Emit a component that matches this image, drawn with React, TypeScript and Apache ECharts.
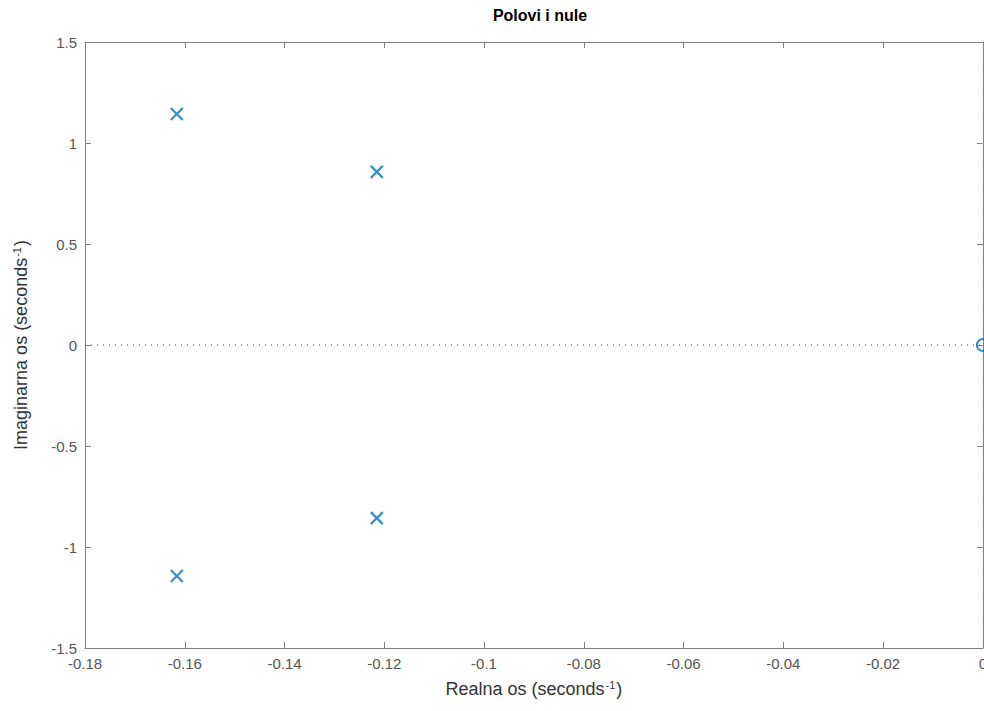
import React, { useEffect, useRef } from "react";
import * as echarts from "echarts";

const xTicksMin = -0.18;
const xTicksMax = 0;
const xInterval = 0.02;
const yTicksMin = -1.5;
const yTicksMax = 1.5;
const yInterval = 0.5;

const poleRe = [-0.1616, -0.1215, -0.1215, -0.1616];
const poleIm = [1.144, 0.857, -0.857, -1.144];
const zeroRe = [0];
const zeroIm = [0];

const BLUE = "#0072BD";
const FONT = "Liberation Sans, Arial, Helvetica, sans-serif";

export default function App() {
  const ref = useRef<HTMLDivElement>(null);
  useEffect(() => {
    if (!ref.current) return;
    const chart = echarts.init(ref.current, undefined, { renderer: "svg" });
    const poles = poleRe.map((r, i) => [r, poleIm[i]]);
    const zeros = zeroRe.map((r, i) => [r, zeroIm[i]]);
    const axisLine = { show: true, onZero: false, lineStyle: { color: "#7f7f7f", width: 1 } };
    const tick = { show: true, inside: true, length: 6, lineStyle: { color: "#7f7f7f" } };
    const label = { color: "#555", fontSize: 15, fontFamily: FONT, margin: 8 };
    const nameRich = {
      sup: { fontSize: 11, verticalAlign: "top", color: "#333", fontFamily: FONT, padding: [0, 1, 9, 1] },
    };
    chart.setOption({
      animation: false,
      backgroundColor: "#fff",
      title: {
        text: "Polovi i nule",
        left: 535,
        textAlign: "center",
        top: 2,
        textStyle: { fontSize: 16, fontWeight: "bold", color: "#000", fontFamily: FONT },
      },
      grid: { left: 85, right: 5, top: 42, bottom: 63 },
      xAxis: [
        {
          type: "value",
          min: xTicksMin,
          max: xTicksMax,
          interval: xInterval,
          position: "bottom",
          axisLine,
          axisTick: tick,
          axisLabel: label,
          splitLine: { show: false },
          name: "Realna os (seconds{sup|-1})",
          nameLocation: "middle",
          nameGap: 31,
          nameTextStyle: { fontSize: 18, color: "#333", fontFamily: FONT, rich: nameRich },
        },
        {
          type: "value",
          min: xTicksMin,
          max: xTicksMax,
          interval: xInterval,
          position: "top",
          axisLine,
          axisTick: tick,
          axisLabel: { show: false },
          splitLine: { show: false },
        },
      ],
      yAxis: [
        {
          type: "value",
          min: yTicksMin,
          max: yTicksMax,
          interval: yInterval,
          position: "left",
          axisLine,
          axisTick: tick,
          axisLabel: label,
          splitLine: { show: false },
          name: "Imaginarna os (seconds{sup|-1})",
          nameLocation: "middle",
          nameGap: 54,
          nameTextStyle: { fontSize: 18, color: "#333", fontFamily: FONT, rich: nameRich },
        },
        {
          type: "value",
          min: yTicksMin,
          max: yTicksMax,
          interval: yInterval,
          position: "right",
          axisLine,
          axisTick: tick,
          axisLabel: { show: false },
          splitLine: { show: false },
        },
      ],
      series: [
        {
          type: "line",
          data: [[xTicksMin, 0], [xTicksMax, 0]],
          symbol: "none",
          lineStyle: { type: [1, 5], color: "#444", width: 1 },
          silent: true,
        },
        {
          type: "line",
          data: [[0, yTicksMin], [0, yTicksMax]],
          symbol: "none",
          lineStyle: { type: [1, 5], color: "#bbb", width: 1 },
          silent: true,
        },
        {
          type: "scatter",
          data: poles,
          symbol: "path://M0,0L10,10M10,0L0,10",
          symbolSize: 12,
          clip: false,
          itemStyle: { color: "transparent", borderColor: BLUE, borderWidth: 2.2 },
          z: 5,
        },
        {
          type: "scatter",
          data: zeros,
          symbol: "circle",
          symbolSize: 12,
          clip: false,
          itemStyle: { color: "transparent", borderColor: BLUE, borderWidth: 2 },
          z: 5,
        },
      ],
    });
    return () => chart.dispose();
  }, []);
  return (
    <div
      ref={ref}
      style={{ position: "fixed", left: 0, top: 0, width: 990, height: 711, background: "#fff" }}
    />
  );
}
